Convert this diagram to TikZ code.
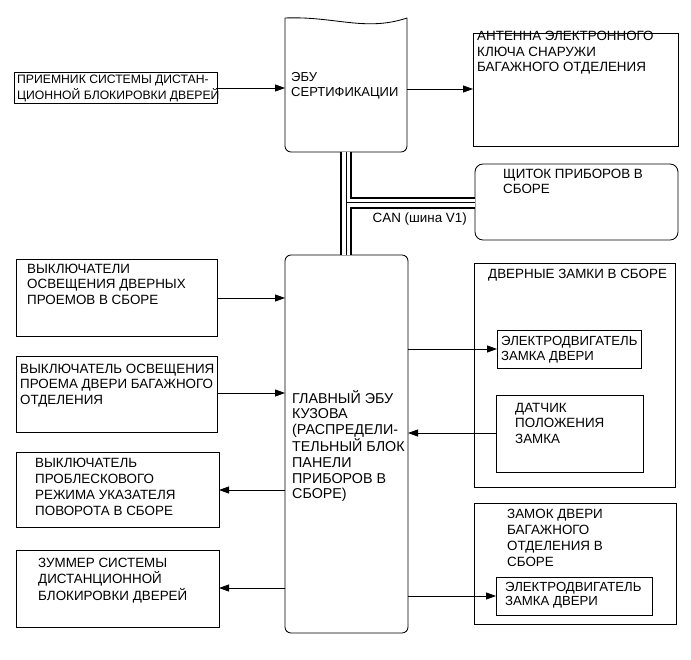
\documentclass[tikz,border=0pt]{standalone}
\usepackage{fontspec}
\setmainfont{Liberation Sans}
\usetikzlibrary{arrows.meta}
\newcommand{\mlines}[1]{\begin{tabular}[t]{@{}l@{}}#1\end{tabular}}
\begin{document}
\begin{tikzpicture}[x=1bp,y=-1bp,
  outline/.style={line width=0.85bp},
  box/.style={draw, outline, anchor=north west, inner sep=0pt, outer sep=0pt},
  txt/.style={anchor=base west, inner sep=0pt, font=\fontsize{13.4bp}{15.5bp}\selectfont},
  arr/.style={outline, -{Triangle[length=10bp,width=7bp]}}]
\useasboundingbox[fill=white] (0,0) rectangle (691,660);

% boxes
\node[box, minimum width=203bp, minimum height=31bp] (recv) at (14,72) {};
\node[draw=none, anchor=north west, inner sep=0pt, outer sep=0pt, minimum width=122bp, minimum height=134bp] (cert) at (285,18) {};
\node[box, minimum width=205bp, minimum height=113bp] (ant) at (473,33) {};
\node[box, rounded corners=8bp, minimum width=203bp, minimum height=76bp] (dash) at (475,164) {};
\node[box, rounded corners=6bp, minimum width=123bp, minimum height=378bp] (main) at (285,255) {};
\node[box, minimum width=201bp, minimum height=77bp] (swA) at (16,259) {};
\node[box, minimum width=201bp, minimum height=76bp] (swB) at (16,356) {};
\node[box, minimum width=203bp, minimum height=75bp] (swC) at (16,452) {};
\node[box, minimum width=203bp, minimum height=77bp] (buz) at (16,550) {};
\node[box, minimum width=201bp, minimum height=224bp] (locks) at (474,263) {};
\node[box, minimum width=144bp, minimum height=38bp] (mot1) at (497,330) {};
\node[box, minimum width=147bp, minimum height=77bp] (sens) at (496,395) {};
\node[box, minimum width=202bp, minimum height=121bp] (trunk) at (474,503) {};
\node[box, minimum width=156bp, minimum height=38bp] (mot2) at (496,577) {};

% certification ECU outline (wavy top)
\draw[outline, rounded corners=6bp] (cert.north east) -- (cert.south east) -- (cert.south west) -- (cert.north west);
\draw[outline] (cert.north west) .. controls +(50,-2) and +(-42,14) .. (cert.north east);

% CAN bus
\coordinate (canY) at (0,202.5);
\foreach \w/\c in {12bp/black, 8bp/white, 1bp/black}{
  \draw[line width=\w, \c] (cert.south) -- (cert.south |- main.north);
  \draw[line width=\w, \c] (cert.south |- canY) -- (canY -| dash.west);
}
\node[txt, anchor=base east] (canlbl) at (467,222) {CAN (шина V1)};

% texts
\node[txt, font=\fontsize{12.2bp}{14bp}\selectfont] (trecv) at (17,84) {\mlines{ПРИЕМНИК СИСТЕМЫ ДИСТАН-\\ЦИОННОЙ БЛОКИРОВКИ ДВЕРЕЙ}};
\node[txt, font=\fontsize{13bp}{15bp}\selectfont] (tcert) at (291,82) {\mlines{ЭБУ\\СЕРТИФИКАЦИИ}};
\node[txt] (tant) at (477,41) {\mlines{АНТЕННА ЭЛЕКТРОННОГО\\КЛЮЧА СНАРУЖИ\\БАГАЖНОГО ОТДЕЛЕНИЯ}};
\node[txt] (tdash) at (503,178) {\mlines{ЩИТОК ПРИБОРОВ В\\СБОРЕ}};
\node[txt, font=\fontsize{14.3bp}{15.6bp}\selectfont] (tmain) at (292,403) {\mlines{ГЛАВНЫЙ ЭБУ\\КУЗОВА\\(РАСПРЕДЕЛИ-\\ТЕЛЬНЫЙ БЛОК\\ПАНЕЛИ\\ПРИБОРОВ В\\СБОРЕ)}};
\node[txt] (tswA) at (27,273) {\mlines{ВЫКЛЮЧАТЕЛИ\\ОСВЕЩЕНИЯ ДВЕРНЫХ\\ПРОЕМОВ В СБОРЕ}};
\node[txt] (tswB) at (20,373) {\mlines{ВЫКЛЮЧАТЕЛЬ ОСВЕЩЕНИЯ\\ПРОЕМА ДВЕРИ БАГАЖНОГО\\ОТДЕЛЕНИЯ}};
\node[txt, font=\fontsize{13.4bp}{16bp}\selectfont] (tswC) at (35,467) {\mlines{ВЫКЛЮЧАТЕЛЬ\\ПРОБЛЕСКОВОГО\\РЕЖИМА УКАЗАТЕЛЯ\\ПОВОРОТА В СБОРЕ}};
\node[txt] (tbuz) at (38,567) {\mlines{ЗУММЕР СИСТЕМЫ\\ДИСТАНЦИОННОЙ\\БЛОКИРОВКИ ДВЕРЕЙ}};
\node[txt] (tlocks) at (488,278) {ДВЕРНЫЕ ЗАМКИ В СБОРЕ};
\node[txt, font=\fontsize{13.2bp}{15.5bp}\selectfont] (tmot1) at (501,345) {\mlines{ЭЛЕКТРОДВИГАТЕЛЬ\\ЗАМКА ДВЕРИ}};
\node[txt] (tsens) at (515,412) {\mlines{ДАТЧИК\\ПОЛОЖЕНИЯ\\ЗАМКА}};
\node[txt, font=\fontsize{13.4bp}{16bp}\selectfont] (ttrunk) at (507,518) {\mlines{ЗАМОК ДВЕРИ\\БАГАЖНОГО\\ОТДЕЛЕНИЯ В\\СБОРЕ}};
\node[txt, font=\fontsize{13.2bp}{14bp}\selectfont] (tmot2) at (505,591) {\mlines{ЭЛЕКТРОДВИГАТЕЛЬ\\ЗАМКА ДВЕРИ}};

% arrow levels
\coordinate (y1) at (0,88);
\coordinate (y2) at (0,89);
\coordinate (y3) at (0,298);
\coordinate (y4) at (0,393);
\coordinate (y5) at (0,490);
\coordinate (y6) at (0,588);
\coordinate (y7) at (0,349);
\coordinate (y8) at (0,433);
\coordinate (y9) at (0,596);

\draw[arr] (recv.east |- y1) -- (cert.west |- y1);
\draw[arr] (cert.east |- y2) -- (ant.west |- y2);
\draw[arr] (swA.east |- y3) -- (main.west |- y3);
\draw[arr] (swB.east |- y4) -- (main.west |- y4);
\draw[arr] (main.west |- y5) -- (swC.east |- y5);
\draw[arr] (main.west |- y6) -- (buz.east |- y6);
\draw[arr] (main.east |- y7) -- (mot1.west |- y7);
\draw[arr] (sens.west |- y8) -- (main.east |- y8);
\draw[arr] (main.east |- y9) -- (mot2.west |- y9);
\end{tikzpicture}
\end{document}
